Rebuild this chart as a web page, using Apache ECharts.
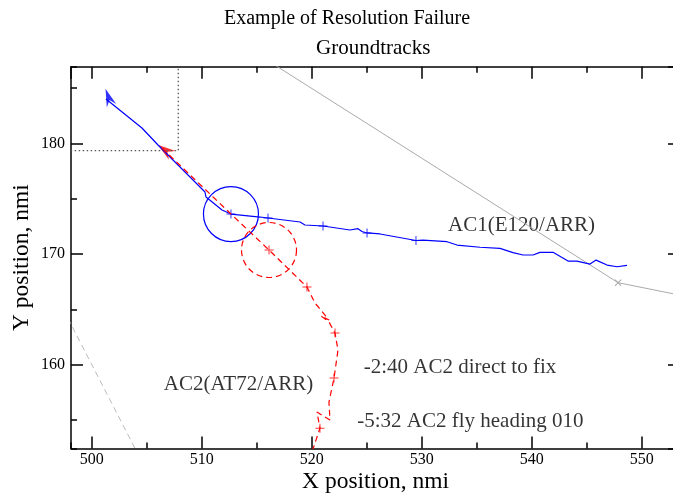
<!DOCTYPE html>
<html>
<head>
<meta charset="utf-8">
<title>Example of Resolution Failure</title>
<script src="https://cdn.jsdelivr.net/npm/echarts@6/dist/echarts.min.js"></script>
<style>
  html, body { margin: 0; padding: 0; background: #fff; }
  #chart { width: 673px; height: 495px; }
</style>
</head>
<body>
<div id="chart"></div>
<script>
// axis extents, nmi
const xRange = [498.12, 553.48]
const yRange = [152.43, 186.92]

// AC1 groundtrack [x, y]
const ac1Track = [
  [501.30, 184.00], [504.57, 181.38], [506.03, 179.85], [510.30, 175.60],
  [510.39, 175.15], [511.85, 173.97], [512.66, 173.61], [515.30, 173.34],
  [516.03, 173.25], [518.94, 172.89], [519.39, 172.62], [521.03, 172.53],
  [523.48, 172.17], [524.21, 172.29], [524.57, 172.03], [525.03, 171.90],
  [526.21, 171.81], [529.48, 171.22], [530.12, 171.26], [532.30, 171.11],
  [533.21, 170.81], [535.30, 170.61], [537.12, 170.51], [538.30, 170.12],
  [539.21, 169.91], [540.12, 169.91], [540.75, 170.15], [541.94, 170.15],
  [543.30, 169.36], [544.12, 169.36], [545.30, 169.09], [545.85, 169.45],
  [546.85, 169.00], [547.76, 168.85], [548.66, 168.98]
]
const ac1Marks = [
  [512.66, 173.61], [516.03, 173.25], [521.03, 172.53], [525.03, 171.90], [529.48, 171.22]
]
const ac1Head = [501.53, 184.16]
const ac1Zone = [512.66, 173.61, 2.5]

// AC2 groundtrack [x, y]
const ac2Track = [
  [506.39, 179.57], [512.66, 173.61], [516.12, 170.36], [519.57, 167.02],
  [520.30, 165.57], [521.57, 164.04], [520.85, 164.40], [521.57, 163.86],
  [522.12, 162.86], [522.39, 161.33], [522.03, 158.80], [521.57, 156.63],
  [521.66, 155.00], [520.48, 155.72], [520.75, 154.27], [520.12, 152.38],
  [520.03, 151.84]
]
const ac2Marks = [
  [516.12, 170.36], [519.57, 167.02], [522.12, 162.86], [522.03, 158.80], [520.75, 154.27]
]
const ac2Head = [506.67, 179.39]
const ac2Zone = [516.12, 170.36, 2.5]

// grey reference lines
const fixLine = [[514.0, 188.74], [547.85, 167.41], [556.0, 165.78]]
const fixPoint = [[547.85, 167.41]]
const lowerLine = [[497.0, 165.8], [505.0, 150.4]]
const boxLine = [[497.0, 179.33], [507.87, 179.33], [507.87, 188.0]]

// annotations [x, y, text]
const notes = [
  [532.35, 172.62, 'AC1(E120/ARR)'],
  [506.51, 158.17, 'AC2(AT72/ARR)'],
  [524.69, 159.73, '-2:40 AC2 direct to fix'],
  [524.09, 154.91, '-5:32 AC2 fly heading 010']
]

const serif = '"Liberation Serif", "DejaVu Serif", serif'
const plusPath = 'path://M4,0h1v9h-1zM0,4h9v1h-9z'
const crossPath = 'path://M0,1L1,0L9,8L8,9ZM8,0L9,1L1,9L0,8Z'
const headPath = 'path://M5,0L10,18L5,12L0,18Z'

function axisOf (dim, position, major, labels) {
  const range = dim === 'x' ? xRange : yRange
  const ax = {
    type: 'value',
    position,
    min: range[0],
    max: range[1],
    splitNumber: dim === 'x' ? (major ? 5 : 11) : (major ? 3 : 7),
    axisLine: { show: major, lineStyle: { color: '#000', width: 1.5 } },
    axisTick: { show: true, inside: true, length: major ? 12 : 6, lineStyle: { color: '#000', width: 1.5 } },
    axisLabel: {
      show: labels,
      showMinLabel: false,
      showMaxLabel: false,
      margin: dim === 'x' ? 3 : 6,
      fontSize: 16,
      fontFamily: serif,
      color: '#000'
    },
    splitLine: { show: false }
  }
  if (labels) {
    ax.name = dim === 'x' ? 'X position, nmi' : 'Y position, nmi'
    ax.nameLocation = 'middle'
    ax.nameMoveOverlap = false
    ax.nameGap = dim === 'x' ? 21 : 37
    ax.nameTextStyle = { fontFamily: serif, fontSize: 23.5, color: '#000' }
  }
  return ax
}

const circleItem = (color, dash) => (params, api) => {
  const c = api.coord([api.value(0), api.value(1)])
  const r = api.size([api.value(2), 0])[0]
  return {
    type: 'circle',
    shape: { cx: c[0], cy: c[1], r },
    style: { fill: 'none', stroke: color, lineWidth: 1.2, lineDash: dash }
  }
}

const chart = echarts.init(document.getElementById('chart'), null, { renderer: 'canvas' })

chart.setOption({
  animation: false,
  backgroundColor: '#fff',
  title: [
    { text: 'Example of Resolution Failure', left: 219, top: 4, textStyle: { fontFamily: serif, fontSize: 20, fontWeight: 'normal', color: '#000' } },
    { text: 'Groundtracks', left: 311, top: 33, textStyle: { fontFamily: serif, fontSize: 21, fontWeight: 'normal', color: '#000' } }
  ],
  grid: { left: 71, top: 66.7, right: -7, bottom: 46.5, containLabel: false, outerBoundsMode: 'none' },
  xAxis: [
    axisOf('x', 'bottom', true, true),
    axisOf('x', 'bottom', false, false),
    axisOf('x', 'top', true, false),
    axisOf('x', 'top', false, false)
  ],
  yAxis: [
    axisOf('y', 'left', true, true),
    axisOf('y', 'left', false, false),
    axisOf('y', 'right', true, false),
    axisOf('y', 'right', false, false)
  ],
  series: [
    {
      type: 'line', data: fixLine, symbol: 'none', silent: true,
      lineStyle: { color: '#aaa', width: 1 }
    },
    {
      type: 'scatter', data: fixPoint, symbol: crossPath, symbolSize: 7,
      itemStyle: { color: '#999' }
    },
    {
      type: 'line', data: lowerLine, symbol: 'none',
      lineStyle: { color: '#bbb', width: 1, type: [6, 4] }
    },
    {
      type: 'line', data: boxLine, symbol: 'none',
      lineStyle: { color: '#555', width: 1.3, type: [1.5, 2.5] }
    },
    {
      type: 'line', data: ac1Track, symbol: 'none',
      lineStyle: { color: '#0000ff', width: 1.2 }
    },
    {
      type: 'line', data: ac2Track, symbol: 'none',
      lineStyle: { color: '#ff0000', width: 1.2, type: [6, 4] }
    },
    {
      type: 'custom', data: [ac1Zone], renderItem: circleItem('#0000ff', null)
    },
    {
      type: 'custom', data: [ac2Zone], renderItem: circleItem('#ff0000', [6, 4])
    },
    {
      type: 'scatter', data: ac1Marks, symbol: plusPath, symbolSize: 9,
      itemStyle: { color: '#0000ff' }
    },
    {
      type: 'scatter', data: ac2Marks, symbol: plusPath, symbolSize: 9,
      itemStyle: { color: '#ff0000' }
    },
    {
      type: 'scatter', data: [ac1Head], symbol: headPath, symbolSize: [10, 18], symbolRotate: 19.5,
      itemStyle: { color: '#0000ff' }
    },
    {
      type: 'scatter', data: [ac2Head], symbol: headPath, symbolSize: [11, 18], symbolRotate: 53,
      itemStyle: { color: '#ff0000' }
    },
    {
      type: 'scatter',
      data: notes.map(n => ({ value: [n[0], n[1]], name: n[2] })),
      symbolSize: 1,
      itemStyle: { color: 'rgba(0,0,0,0)' },
      label: {
        show: true, position: 'right', distance: 0, formatter: '{b}',
        fontFamily: serif, fontSize: 21, color: '#000'
      }
    }
  ]
})
</script>
</body>
</html>
